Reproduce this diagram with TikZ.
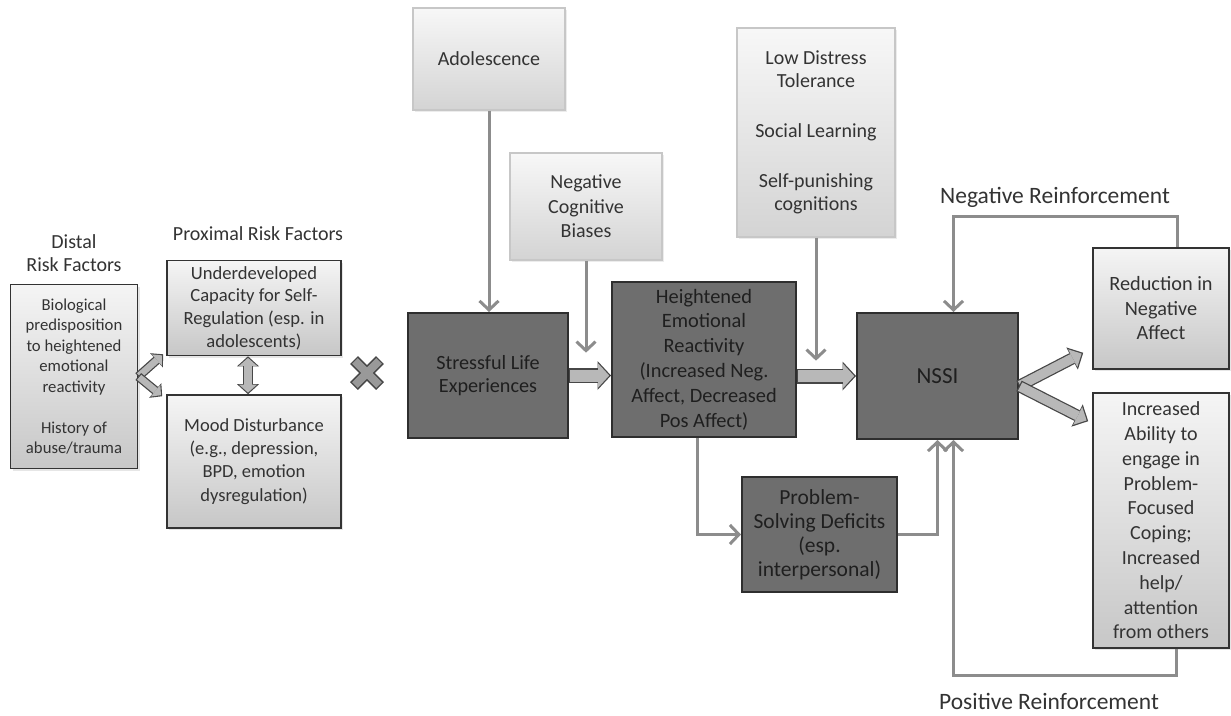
\documentclass[tikz,border=0pt]{standalone}
\usepackage{fontspec}
\setmainfont{Carlito}
\usetikzlibrary{arrows.meta,positioning,calc,shadows}

\begin{document}
\begin{tikzpicture}[
    x=1pt, y=-1pt,
    lightbox/.style={draw=black!80, line width=1.6pt, top color=black!4, bottom color=black!22, text=black!80, align=center, inner sep=0pt, drop shadow={opacity=0.2, shadow xshift=2pt, shadow yshift=-2pt}},
    topbox/.style={draw=black!22, line width=1.3pt, top color=black!3, bottom color=black!17, text=black!80, align=center, inner sep=0pt, drop shadow={opacity=0.15, shadow xshift=2pt, shadow yshift=-2pt}},
    darkbox/.style={draw=black!82, line width=2pt, fill=black!57, text=black!88, align=center, inner sep=0pt},
    label/.style={text=black!80, align=center, inner sep=0pt},
    link/.style={draw=black!45, line width=3pt, -{Straight Barb[length=9pt,width=19pt]}},
    fat/.style={draw=black!28, line width=12pt, shorten >=1.8pt, shorten <=1.3pt, -{Triangle[length=11pt,width=24pt,line width=0pt]},
        preaction={draw=black!72, line width=15pt, shorten >=0pt, shorten <=0pt, -{Triangle[length=13.5pt,width=29pt,line width=0pt]}}},
    fatmid/.style={draw=black!28, line width=9.5pt, shorten >=1.8pt, shorten <=1.3pt, -{Triangle[length=10pt,width=20pt,line width=0pt]},
        preaction={draw=black!72, line width=12pt, shorten >=0pt, shorten <=0pt, -{Triangle[length=12.5pt,width=25pt,line width=0pt]}}},
    fatsm/.style={draw=black!28, line width=6.5pt, shorten >=1.6pt, shorten <=1.2pt, -{Triangle[length=7pt,width=15pt,line width=0pt]},
        preaction={draw=black!72, line width=9pt, shorten >=0pt, shorten <=0pt, -{Triangle[length=9pt,width=19pt,line width=0pt]}}},
    fatboth/.style={draw=black!28, line width=8pt, shorten >=1.6pt, shorten <=1.6pt, {Triangle[length=8pt,width=18pt,line width=0pt]}-{Triangle[length=8pt,width=18pt,line width=0pt]},
        preaction={draw=black!72, line width=10.5pt, shorten >=0pt, shorten <=0pt, {Triangle[length=10pt,width=22pt,line width=0pt]}-{Triangle[length=10pt,width=22pt,line width=0pt]}}}
]
\useasboundingbox (0,0) rectangle (1231,715);

% risk factors
\node[label, font=\fontsize{20}{23}\selectfont] (distlab) at (74,253.5) {Distal\\Risk Factors};
\node[lightbox, minimum width=127pt, minimum height=184pt, font=\fontsize{16.7}{20.5}\selectfont] (distal) at (74,376.5)
    {Biological\\predisposition\\to heightened\\emotional\\reactivity\\[20.5pt]History of\\abuse/trauma};
\node[label, font=\fontsize{20}{23}\selectfont] (proxlab) at (258,234) {Proximal Risk Factors};
\node[lightbox, minimum width=174pt, minimum height=95pt, font=\fontsize{18.6}{22.7}\selectfont] (under) at (254,308)
    {Underdeveloped\\Capacity for Self-\\Regulation (esp. in\\adolescents)};
\node[lightbox, minimum width=174pt, minimum height=133pt, font=\fontsize{18.5}{23.3}\selectfont] (mood) at (254,461.5)
    {Mood Disturbance\\(e.g., depression,\\BPD, emotion\\dysregulation)};

% moderators on top
\node[topbox, minimum width=152pt, minimum height=102pt, font=\fontsize{20}{23}\selectfont] (adol) at (489,59) {Adolescence};
\node[topbox, minimum width=152pt, minimum height=107pt, font=\fontsize{20}{24.5}\selectfont] (negcog) at (586,206.5) {Negative\\Cognitive\\Biases};
\node[topbox, minimum width=158pt, minimum height=209pt, font=\fontsize{20}{23}\selectfont] (lowdist) at (816,132.5)
    {Low Distress\\Tolerance\\[27pt]Social Learning\\[27pt]Self-punishing\\cognitions};

% main chain
\node[darkbox, minimum width=160pt, minimum height=125pt, font=\fontsize{20.2}{23}\selectfont] (stress) at (488,375.5) {Stressful Life\\Experiences};
\node[darkbox, minimum width=184pt, minimum height=155pt, font=\fontsize{20.4}{24.8}\selectfont] (heighten) at (704,359.5)
    {Heightened\\Emotional\\Reactivity\\(Increased Neg.\\Affect, Decreased\\Pos Affect)};
\node[darkbox, minimum width=161pt, minimum height=126pt, font=\fontsize{23}{26}\selectfont] (nssi) at (937.5,376) {NSSI};
\node[darkbox, minimum width=155pt, minimum height=115pt, font=\fontsize{21.5}{24}\selectfont] (problem) at (819.5,534.5)
    {Problem-\\Solving Deficits\\(esp.\\interpersonal)};

% outcomes
\node[lightbox, minimum width=136pt, minimum height=121pt, font=\fontsize{20.3}{24.5}\selectfont] (reduc) at (1161,308.5)
    {Reduction in\\Negative\\Affect};
\node[lightbox, minimum width=136pt, minimum height=255pt, font=\fontsize{20}{24.8}\selectfont] (incr) at (1161,520.5)
    {Increased\\Ability to\\engage in\\Problem-\\Focused\\Coping;\\Increased\\help/\\attention\\from others};
\node[label, font=\fontsize{23.5}{26}\selectfont] (neglab) at (1055,197) {Negative Reinforcement};
\node[label, font=\fontsize{23.5}{26}\selectfont] (poslab) at (1049,701) {Positive Reinforcement};

% thin connectors
\coordinate[below=92pt of negcog.south] (negend);
\coordinate[below=123pt of lowdist.south] (lowend);
\draw[link] (adol.south) -- (adol.south |- stress.north);
\draw[link] (negcog.south) -- (negend);
\draw[link] (lowdist.south) -- (lowend);
\draw[link] ([xshift=-7pt]heighten.south) |- (problem);
\draw[link] (problem) -| (nssi);
\draw[link] ([xshift=15pt]incr.south) -- ++(0,27) -| ([xshift=16pt]nssi.south);
\draw[link] ([xshift=16pt]reduc.north) -- ++(0,-31) -| ([xshift=16pt]nssi.north);

% block arrows
\draw[fat] (stress.east) -- (stress.east -| heighten.west);
\draw[fat] (heighten.east |- nssi.west) -- (nssi.west);
\draw[fatmid] ([yshift=-10pt]nssi.east) -- ([shift={(-9,-17)}]reduc.south west);
\draw[fatmid] ([yshift=-10pt]nssi.east) -- ([shift={(-4,29)}]incr.north west);
\draw[fatsm] (distal.east) -- ([shift={(-3,-2)}]under.south west);
\draw[fatsm] (distal.east) -- ([shift={(-4,2)}]mood.north west);
\draw[fatboth] ([xshift=-6pt]under.south) -- ([xshift=-6pt]mood.north);

% interaction sign
\coordinate (times) at (367,373);
\foreach \s in {1,-1}
  \draw[black!72, line width=11pt] ($(times)+(-13,-13*\s)$) -- ($(times)+(13,13*\s)$);
\foreach \s in {1,-1}
  \draw[black!40, line width=8pt, shorten <=1.3pt, shorten >=1.3pt] ($(times)+(-13,-13*\s)$) -- ($(times)+(13,13*\s)$);
\end{tikzpicture}
\end{document}
